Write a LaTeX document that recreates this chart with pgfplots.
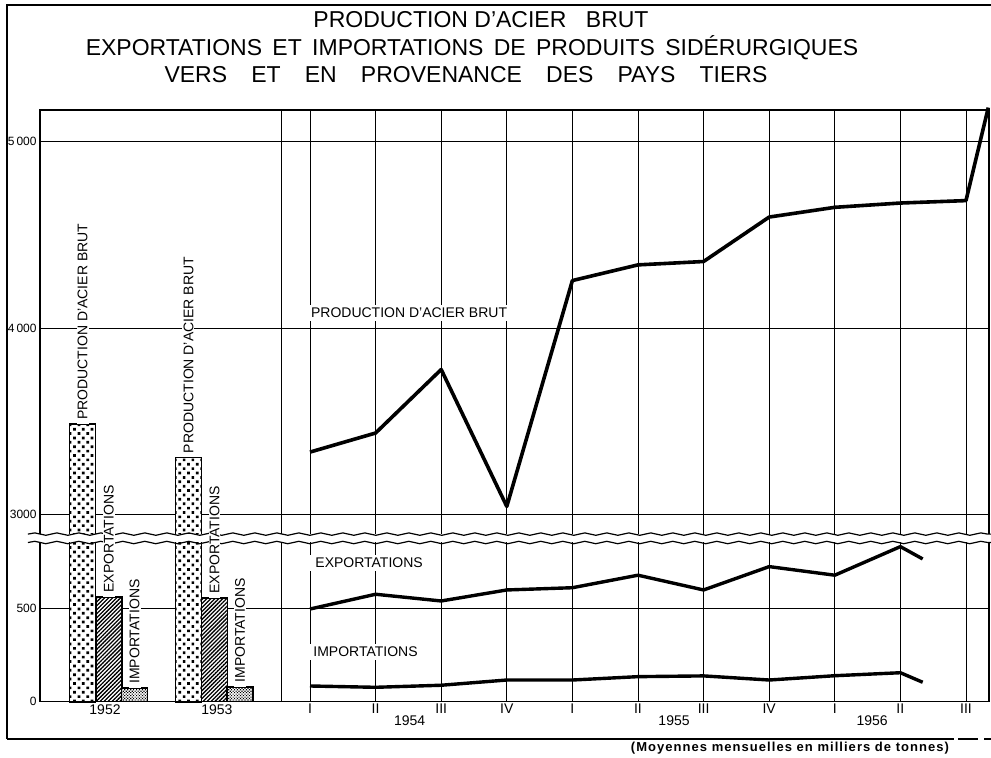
\documentclass[border=0pt]{standalone}
\usepackage{fontspec}
\setmainfont{Liberation Sans}
\newfontfamily\footfont[LetterSpace=8]{Liberation Sans}
\usepackage{pgfplots}
\pgfplotsset{compat=1.18}
\usetikzlibrary{patterns.meta,decorations.pathmorphing}
\newcommand\lab{\fontsize{7}{8}\selectfont}
\begin{document}
\begin{tikzpicture}
\useasboundingbox (0,0) rectangle (495.5pt,379pt);
% outer frame
\draw[line width=0.7pt] (3.5pt,9.5pt) -- (3.5pt,376.5pt) -- (495.5pt,376.5pt);
\draw[line width=0.7pt] (3.5pt,9.5pt) -- (477pt,9.5pt);
\draw[line width=0.7pt, dash pattern=on 10pt off 3pt] (479pt,9.5pt) -- (495.5pt,9.5pt);
% titles
\node[font=\fontsize{11.5}{13}\selectfont] at (240.5pt,369pt) {PRODUCTION D'ACIER\hspace{0.85em}BRUT};
\node[font=\fontsize{11.5}{13}\selectfont] at (236pt,355pt) {EXPORTATIONS\hspace{0.45em}ET\hspace{0.45em}IMPORTATIONS\hspace{0.45em}DE\hspace{0.45em}PRODUITS\hspace{0.45em}SIDÉRURGIQUES};
\node[font=\fontsize{11.5}{13}\selectfont] at (233pt,341.5pt) {VERS\hspace{1.05em}ET\hspace{1.05em}EN\hspace{1.05em}PROVENANCE\hspace{1.05em}DES\hspace{1.05em}PAYS\hspace{1.05em}TIERS};
\node[font=\footfont\fontsize{6.5}{7}\bfseries] at (395pt,5pt) {(Moyennes mensuelles en milliers de tonnes)};
\begin{axis}[
  at={(20pt,28.15pt)}, anchor=south west, scale only axis,
  width=474.5pt, height=295.85pt,
  xmin=-4.116, xmax=10.351, ymin=0, ymax=3167,
  clip=false,
  axis line style={line width=0.6pt},
  xtick={0,1,...,10},
  xticklabels={I,II,III,IV,I,II,III,IV,I,II,III},
  ytick={0,500,1000,2000,3000},
  yticklabels={0,500,3000,4\,000,5\,000},
  major tick length=0pt,
  xmajorgrids, ymajorgrids,
  grid style={line width=0.45pt, black, solid},
  extra x ticks={-0.442}, extra x tick labels={},
  extra x tick style={grid=major, major tick length=0pt},
  xticklabel style={font=\fontsize{7}{8}\selectfont, inner sep=1pt},
  yticklabel style={font=\fontsize{6}{7}\selectfont, inner sep=1.5pt},
  /pgf/number format/assume math mode=true,
]
% production bars (white base + labels)
\addplot[ybar, bar width=0.397, bar shift=0, draw=none, fill=white,
  y filter/.expression={y-2000},
  nodes near coords={PRODUCTION D'ACIER BRUT},
  every node near coord/.append style={rotate=90, anchor=west, font=\lab, fill=white, text=black, inner xsep=2pt, inner ysep=0.5pt}]
  coordinates {(-3.467,3485) (-1.853,3307)};
\addplot[ybar, bar width=0.397, bar shift=0, draw=black, line width=0.9pt,
  pattern={Dots[angle=45,distance=3.1pt,radius=0.95pt]},
  y filter/.expression={y-2000}]
  coordinates {(-3.467,3485) (-1.853,3307)};
% axis break band
\fill[white] (axis cs:-4.32,853) rectangle (axis cs:10.4,896);
\draw[line width=0.6pt, decorate, decoration={snake, amplitude=0.6pt, segment length=11pt}] (axis cs:-4.30,897) -- (axis cs:10.38,897);
\draw[line width=0.6pt, decorate, decoration={snake, amplitude=0.6pt, segment length=11pt}] (axis cs:-4.30,852) -- (axis cs:10.38,852);
% exports bars
\addplot[ybar, bar width=0.397, bar shift=0, draw=none, fill=white,
  nodes near coords={EXPORTATIONS},
  every node near coord/.append style={rotate=90, anchor=west, font=\lab, fill=white, text=black, inner xsep=2pt, inner ysep=0.5pt}]
  coordinates {(-3.068,560) (-1.456,555)};
\addplot[ybar, bar width=0.397, bar shift=0, draw=black, line width=0.8pt,
  pattern={Lines[angle=45,distance=1.4pt,line width=0.65pt]}]
  coordinates {(-3.068,560) (-1.456,555)};
% imports bars
\addplot[ybar, bar width=0.397, bar shift=0, draw=none, fill=white,
  nodes near coords={IMPORTATIONS},
  every node near coord/.append style={rotate=90, anchor=west, font=\lab, fill=white, text=black, inner xsep=2pt, inner ysep=0.5pt}]
  coordinates {(-2.673,73) (-1.068,79)};
\addplot[ybar, bar width=0.397, bar shift=0, draw=black, line width=0.8pt,
  pattern={Dots[angle=45,distance=1.05pt,radius=0.42pt]}]
  coordinates {(-2.673,73) (-1.068,79)};
% quarterly lines
\addplot[black, line width=1.8pt, line join=round, y filter/.expression={y-2000}] coordinates {
  (0,3336) (1,3438) (2,3778) (3,3045) (4,4254) (5,4338) (6,4356) (7,4594) (8,4646) (9,4669) (10,4682) (10.34,5180)};
\addplot[black, line width=1.7pt, line join=round] coordinates {
  (0,496) (1,575) (2,539) (3,598) (4,610) (5,677) (6,598) (7,723) (8,677) (9,830) (9.34,764)};
\addplot[black, line width=1.7pt, line join=round] coordinates {
  (0,84) (1,77) (2,88) (3,116) (4,116) (5,134) (6,138) (7,116) (8,139) (9,155) (9.34,104)};
% line labels
\node[anchor=west, fill=white, inner xsep=3pt, inner ysep=1.5pt, font=\lab] at (axis cs:-0.081,2081) {PRODUCTION D'ACIER BRUT};
\node[anchor=west, fill=white, inner xsep=3pt, inner ysep=1.5pt, font=\lab] at (axis cs:-0.015,744) {EXPORTATIONS};
\node[anchor=west, fill=white, inner xsep=3pt, inner ysep=1.5pt, font=\lab] at (axis cs:-0.046,266) {IMPORTATIONS};
% year labels
\node[font=\lab] at (axis cs:-3.125,-44) {1952};
\node[font=\lab] at (axis cs:-1.42,-44) {1953};
\node[font=\lab] at (axis cs:1.52,-103) {1954};
\node[font=\lab] at (axis cs:5.55,-103) {1955};
\node[font=\lab] at (axis cs:8.57,-103) {1956};
\end{axis}
\end{tikzpicture}
\end{document}
